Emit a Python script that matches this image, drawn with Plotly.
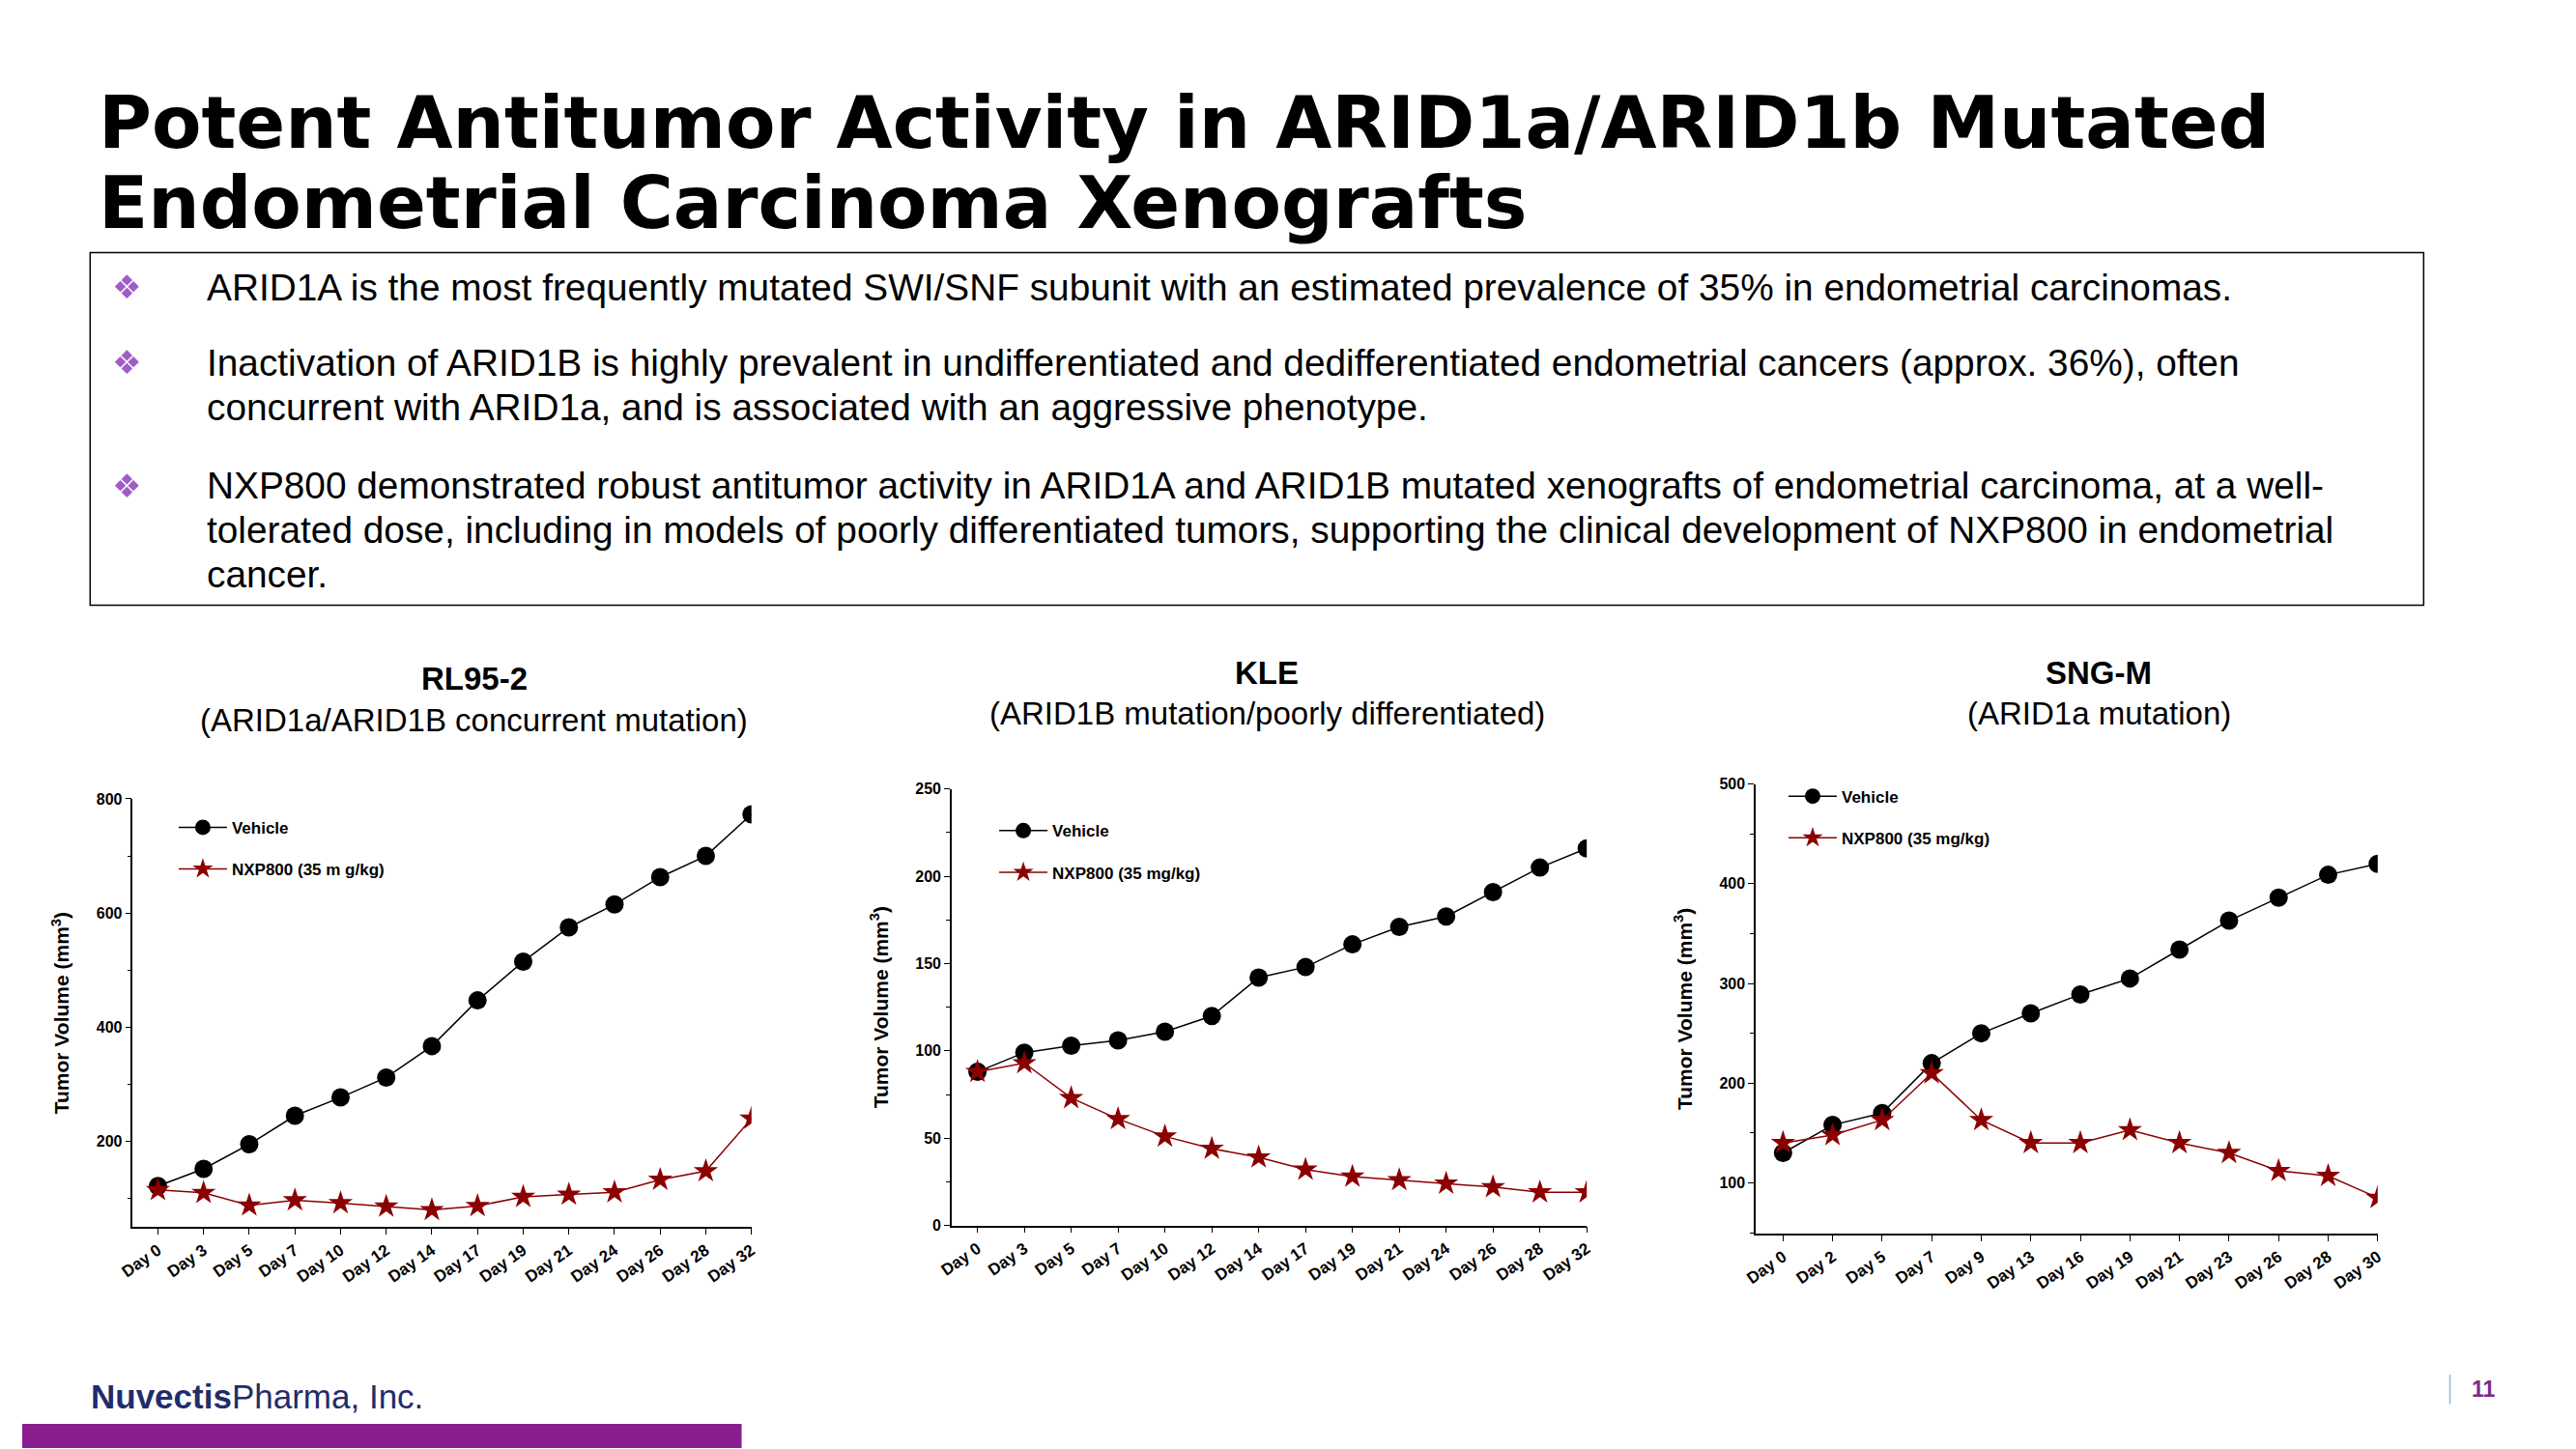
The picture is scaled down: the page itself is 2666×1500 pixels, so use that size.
import plotly.graph_objects as go

# RL95-2
days1 = ["Day 0", "Day 3", "Day 5", "Day 7", "Day 10", "Day 12", "Day 14", "Day 17", "Day 19", "Day 21", "Day 24", "Day 26", "Day 28", "Day 32"]
veh1 = [122, 152, 195, 245, 277, 312, 367, 447, 515, 575, 615, 663, 700, 773]
nxp1 = [115, 110, 88, 97, 92, 86, 80, 87, 103, 107, 111, 133, 148, 240]

# KLE
days2 = days1
veh2 = [88, 99, 103, 106, 111, 120, 142, 148, 161, 171, 177, 191, 205, 216]
nxp2 = [88, 93, 73, 61, 51, 44, 39, 32, 28, 26, 24, 22, 19, 19]

# SNG-M
days3 = ["Day 0", "Day 2", "Day 5", "Day 7", "Day 9", "Day 13", "Day 16", "Day 19", "Day 21", "Day 23", "Day 26", "Day 28", "Day 30"]
veh3 = [130, 158, 170, 220, 250, 270, 289, 305, 334, 363, 386, 409, 420]
nxp3 = [140, 148, 163, 210, 163, 140, 140, 153, 140, 130, 112, 107, 85]

W, H = 2666, 1500


# positions measured on the reference (1546x882 view), corrected for page offset
def px(x):
    return (x - 11.6) / 1.007 / 1546


def py(y):
    return 1 - (y - 9.5) / 0.99 / 882


RED = "#8b0000"
fig = go.Figure()

panels = [
    (days1, veh1, nxp1, [50, 800], [200, 400, 600, 800], (79, 456), (487, 748), 1),
    (days2, veh2, nxp2, [0, 250], [0, 50, 100, 150, 200, 250], (578, 965), (481, 747), 2),
    (days3, veh3, nxp3, [49, 500], [100, 200, 300, 400, 500], (1068, 1447), (478, 752), 3),
]
legpos = [(104, 494), (604, 496), (1085, 475)]

for i, (days, veh, nxp, yr, ytv, (x0, x1), (y0, y1), k) in enumerate(panels):
    sfx = "" if k == 1 else str(k)
    leg = "legend" if k == 1 else "legend" + str(k)
    fig.add_trace(go.Scatter(x=days, y=veh, name="Vehicle", mode="lines+markers",
                             line=dict(color="black", width=1.5),
                             marker=dict(color="black", size=19, symbol="circle"),
                             xaxis="x" + sfx, yaxis="y" + sfx, legend=leg, legendgroup="v%d" % k))
    fig.add_trace(go.Scatter(x=days, y=nxp, name="NXP800 (35 m g/kg)" if k == 1 else "NXP800 (35 mg/kg)",
                             mode="lines+markers",
                             line=dict(color=RED, width=1.5),
                             marker=dict(color=RED, size=19, symbol="star"),
                             xaxis="x" + sfx, yaxis="y" + sfx, legend=leg, legendgroup="n%d" % k))
    n = len(days)
    fig.update_layout(**{
        "xaxis" + sfx: dict(domain=[px(x0), px(x1)], anchor="y" + sfx, type="category",
                            range=[-0.55, n - 1], showline=True, linecolor="black", linewidth=1.5,
                            ticks="outside", ticklen=6, tickcolor="black", tickangle=-35,
                            tickfont=dict(size=17, family="Liberation Sans", color="black", weight="bold"),
                            showgrid=False, zeroline=False),
        "yaxis" + sfx: dict(domain=[py(y1), py(y0)], anchor="x" + sfx, range=yr, tickvals=ytv,
                            showline=True, linecolor="black", linewidth=1.5,
                            ticks="outside", ticklen=6, tickcolor="black",
                            minor=dict(ticks="outside", ticklen=4, dtick=(ytv[1] - ytv[0]) / 2, tickcolor="black"),
                            tickfont=dict(size=16, family="Liberation Sans", color="black", weight="bold"),
                            title=dict(text="Tumor Volume (mm<sup>3</sup>)", standoff=22,
                                       font=dict(size=21, family="Liberation Sans", color="black", weight="bold")),
                            showgrid=False, zeroline=False),
        leg: dict(x=px(legpos[i][0]), y=py(legpos[i][1]), xanchor="left", yanchor="top",
                  bgcolor="rgba(0,0,0,0)", tracegroupgap=18, itemwidth=50,
                  font=dict(size=17, family="Liberation Sans", color="black", weight="bold")),
    })

ann = []


def note(x, y, text, size, family="Liberation Sans", color="black", xanchor="center"):
    ann.append(dict(xref="paper", yref="paper", x=px(x), y=py(y), xanchor=xanchor, yanchor="middle",
                    text=text, showarrow=False, font=dict(size=size, family=family, color=color)))


# titles above panels
for cx, t1, t2, ty in [(287, "RL95-2", "(ARID1a/ARID1B concurrent mutation)", 414),
                       (770, "KLE", "(ARID1B mutation/poorly differentiated)", 410),
                       (1277, "SNG-M", "(ARID1a mutation)", 410)]:
    note(cx, ty, "<b>" + t1 + "</b>", 33)
    note(cx, ty + 25, t2, 33)

# main title
for t, y in [("Potent Antitumor Activity in ARID1a/ARID1b Mutated", 75),
             ("Endometrial Carcinoma Xenografts", 124)]:
    note(57, y, "<b>" + t + "</b>", 75, family="DejaVu Sans", xanchor="left")

bullets = [
    (175, ["ARID1A is the most frequently mutated SWI/SNF subunit with an estimated prevalence of 35% in endometrial carcinomas."]),
    (221, ["Inactivation of ARID1B is highly prevalent in undifferentiated and dedifferentiated endometrial cancers (approx. 36%), often",
           "concurrent with ARID1a, and is associated with an aggressive phenotype."]),
    (296, ["NXP800 demonstrated robust antitumor activity in ARID1A and ARID1B mutated xenografts of endometrial carcinoma, at a well-",
           "tolerated dose, including in models of poorly differentiated tumors, supporting the clinical development of NXP800 in endometrial",
           "cancer."]),
]
for y, lines in bullets:
    note(75, y, "❖", 34, family="DejaVu Sans", color="#a05cc8")
    for j, ln in enumerate(lines):
        note(123, y + 27 * j, ln, 38.8, xanchor="left")

note(52, 851, "<b>Nuvectis</b>Pharma, Inc.", 35, color="#1f2d6b", xanchor="left")
note(1503, 847, "<b>11</b>", 23, color="#7b2a8c", xanchor="left")

shapes = [
    dict(type="rect", xref="paper", yref="paper", x0=px(53), x1=px(1475), y0=py(369), y1=py(154),
         line=dict(color="black", width=1.5)),
    dict(type="rect", xref="paper", yref="paper", x0=0, x1=px(450), y0=0, y1=py(868),
         line=dict(width=0), fillcolor="#8a1e8e"),
    dict(type="line", xref="paper", yref="paper", x0=px(1491), x1=px(1491), y0=py(856), y1=py(838),
         line=dict(color="#9fb5d6", width=1.5)),
]

fig.update_layout(width=W, height=H, margin=dict(l=0, r=0, t=0, b=0),
                  paper_bgcolor="white", plot_bgcolor="white",
                  annotations=ann, shapes=shapes, showlegend=True)

fig.write_html("out.html")
